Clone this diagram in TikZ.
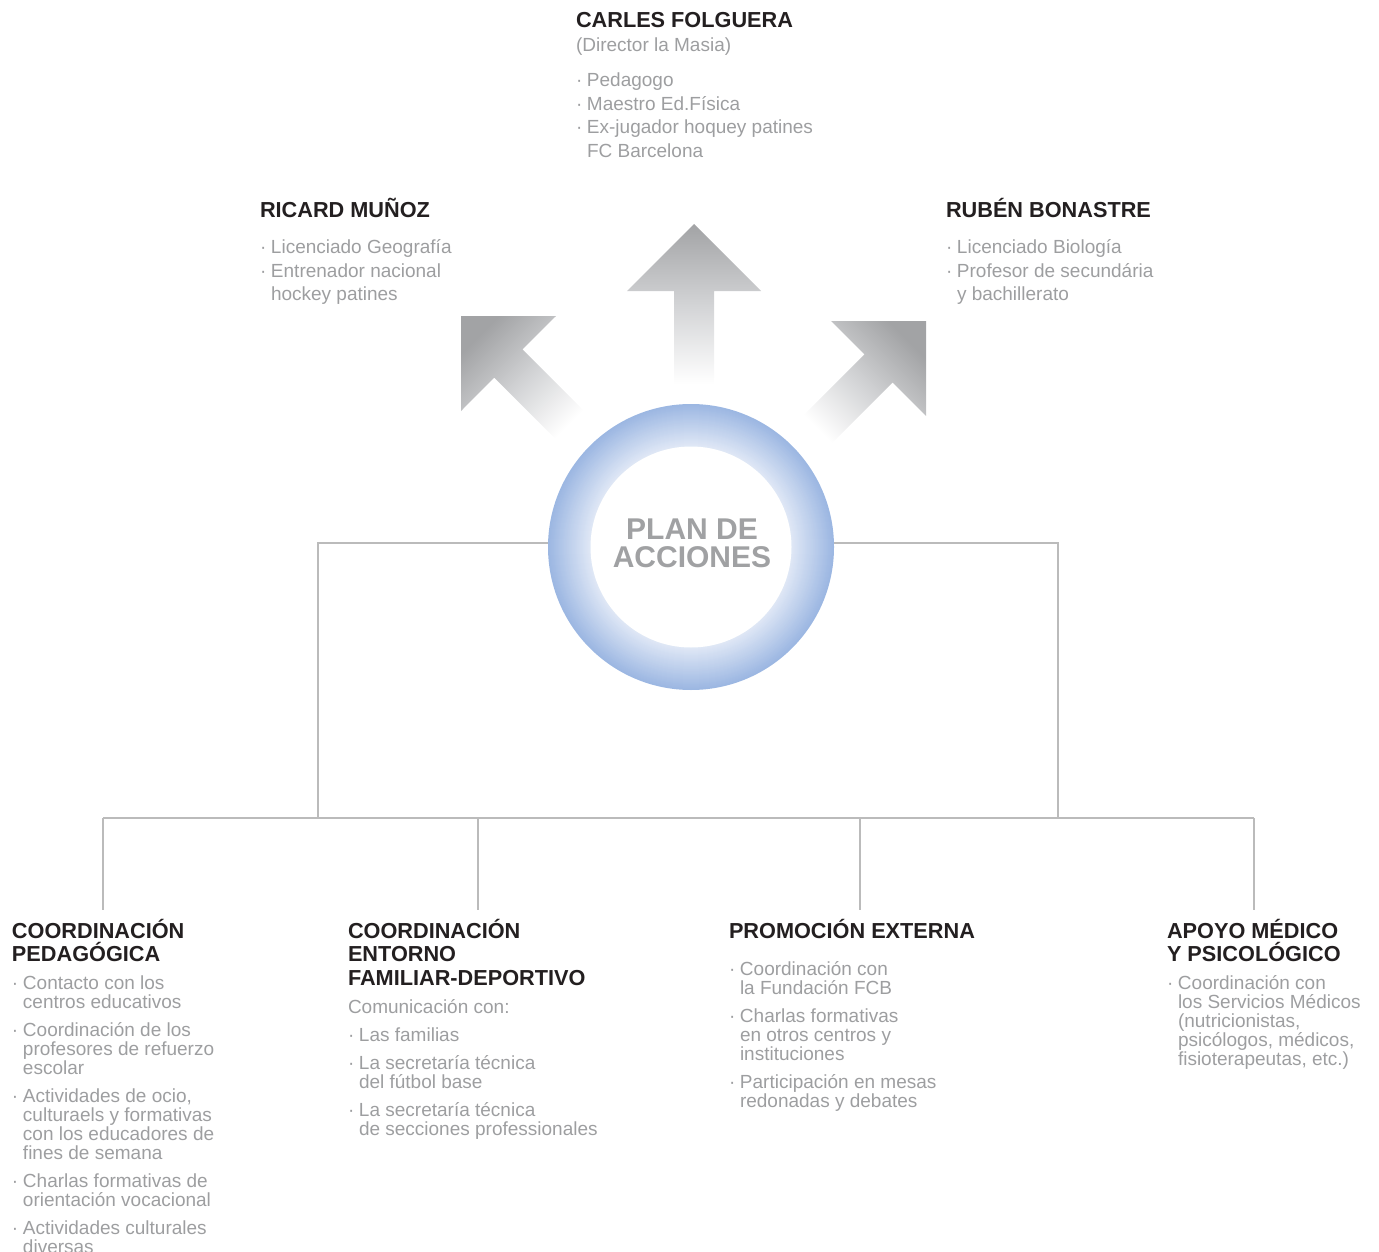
\documentclass[tikz,border=0pt]{standalone}
\usepackage{fontspec}
\setmainfont{Liberation Sans}
\definecolor{headc}{HTML}{231F20}
\definecolor{bodyc}{HTML}{9D9EA0}
\definecolor{linec}{HTML}{BBBBBB}
\definecolor{arrowdark}{HTML}{A2A3A5}
\definecolor{arrowmid}{HTML}{D2D3D5}
\definecolor{ringblue}{HTML}{9CB7E2}
\definecolor{ringpale}{HTML}{E0E8F6}
\definecolor{plantext}{HTML}{A0A1A3}
\newcommand{\bul}{\makebox[11pt][l]{·}}
\newcommand{\ind}{\hspace*{11pt}}
\newcommand{\blk}[1]{\parbox[t]{330pt}{\raggedright #1}}
\begin{document}
\begin{tikzpicture}[x=1pt,y=-1pt,
  head/.style={anchor=base west, inner sep=0, outer sep=0, text=headc, font=\bfseries\fontsize{21.7}{23.5}\selectfont},
  toptext/.style={anchor=base west, inner sep=0, outer sep=0, text=bodyc, font=\fontsize{19}{23.5}\selectfont},
  bottext/.style={anchor=base west, inner sep=0, outer sep=0, text=bodyc, font=\fontsize{19}{19}\selectfont},
  conn/.style={draw=linec, line width=1.2pt},
  arrowshape/.style={top color=arrowdark, bottom color=white, middle color=arrowmid},
  plantxtstyle/.style={align=center, inner sep=0, text=plantext, font=\bfseries\fontsize{30}{28}\selectfont}]
\useasboundingbox (0,0) rectangle (1379,1252);
% arrows
\shade[arrowshape] (694,224) -- (761,291) -- (714,291) -- (714,384) -- (674,384) -- (674,291) -- (627,291) -- cycle;
\shade[arrowshape, shading angle=45] (461,316) -- (556,316) -- (522.5,349.3) -- (588.2,415.0) -- (560,443.3) -- (494.3,377.6) -- (461,411) -- cycle;
\shade[arrowshape, shading angle=-45] (926,321) -- (926,415.8) -- (892.7,382.5) -- (827,448.2) -- (798.8,420) -- (864.5,354.3) -- (831.2,321) -- cycle;
% connectors
\coordinate (pl) at (548,543);
\coordinate (pr) at (834,543);
\coordinate (jl) at (318,818);
\coordinate (jr) at (1058,818);
\coordinate (b1) at (103,818);
\coordinate (b2) at (478,818);
\coordinate (b3) at (860,818);
\coordinate (b4) at (1254,818);
\coordinate (e1) at (103,910);
\coordinate (e2) at (478,910);
\coordinate (e3) at (860,910);
\coordinate (e4) at (1254,910);
\draw[conn] (pl) -| (jl);
\draw[conn] (pr) -| (jr);
\draw[conn] (b1) -- (b4);
\draw[conn] (b1) -- (e1);
\draw[conn] (b2) -- (e2);
\draw[conn] (b3) -- (e3);
\draw[conn] (b4) -- (e4);
% circle
\node[circle, minimum size=286pt, inner sep=0] (plan) at (691,547) {};
\foreach \i in {0,...,42} {
  \pgfmathtruncatemacro\p{100*\i/42}
  \fill[ringpale!\p!ringblue] (plan.center) circle (143-\i);
}
\fill[white] (plan.center) circle (100.5);
\node[plantxtstyle] (plantxt) at (692,543) {PLAN DE\\ACCIONES};
% top texts
\node[head] (cf) at (576,28) {CARLES FOLGUERA};
\node[toptext] (cfsub) at (576,52) {(Director la Masia)};
\node[toptext] (cfitems) at (576,87) {\blk{\bul Pedagogo\\\bul Maestro Ed.Física\\\bul Ex-jugador hoquey patines\\\ind FC Barcelona}};
\node[head] (rm) at (260,218) {RICARD MUÑOZ};
\node[toptext] (rmitems) at (260,254) {\blk{\bul Licenciado Geografía\\\bul Entrenador nacional\\\ind hockey patines}};
\node[head] (rb) at (946,218) {RUBÉN BONASTRE};
\node[toptext] (rbitems) at (946,254) {\blk{\bul Licenciado Biología\\\bul Profesor de secundária\\\ind y bachillerato}};
% bottom texts
\node[head] (h1) at (12,938) {\blk{COORDINACIÓN\\PEDAGÓGICA}};
\node[bottext] (t1) at (12,989) {\blk{\bul Contacto con los\\\ind centros educativos\\[9pt]\bul Coordinación de los\\\ind profesores de refuerzo\\\ind escolar\\[9pt]\bul Actividades de ocio,\\\ind culturaels y formativas\\\ind con los educadores de\\\ind fines de semana\\[9pt]\bul Charlas formativas de\\\ind orientación vocacional\\[9pt]\bul Actividades culturales\\\ind diversas}};
\node[head] (h2) at (348,938) {\blk{COORDINACIÓN\\ENTORNO\\FAMILIAR-DEPORTIVO}};
\node[bottext] (t2) at (348,1013) {\blk{Comunicación con:\\[9pt]\bul Las familias\\[9pt]\bul La secretaría técnica\\\ind del fútbol base\\[9pt]\bul La secretaría técnica\\\ind de secciones professionales}};
\node[head] (h3) at (729,938) {PROMOCIÓN EXTERNA};
\node[bottext] (t3) at (729,975) {\blk{\bul Coordinación con\\\ind la Fundación FCB\\[9pt]\bul Charlas formativas\\\ind en otros centros y\\\ind instituciones\\[9pt]\bul Participación en mesas\\\ind redonadas y debates}};
\node[head] (h4) at (1167,938) {\blk{APOYO MÉDICO\\Y PSICOLÓGICO}};
\node[bottext] (t4) at (1167,989) {\blk{\bul Coordinación con\\\ind los Servicios Médicos\\\ind (nutricionistas,\\\ind psicólogos, médicos,\\\ind fisioterapeutas, etc.)}};
\end{tikzpicture}
\end{document}
